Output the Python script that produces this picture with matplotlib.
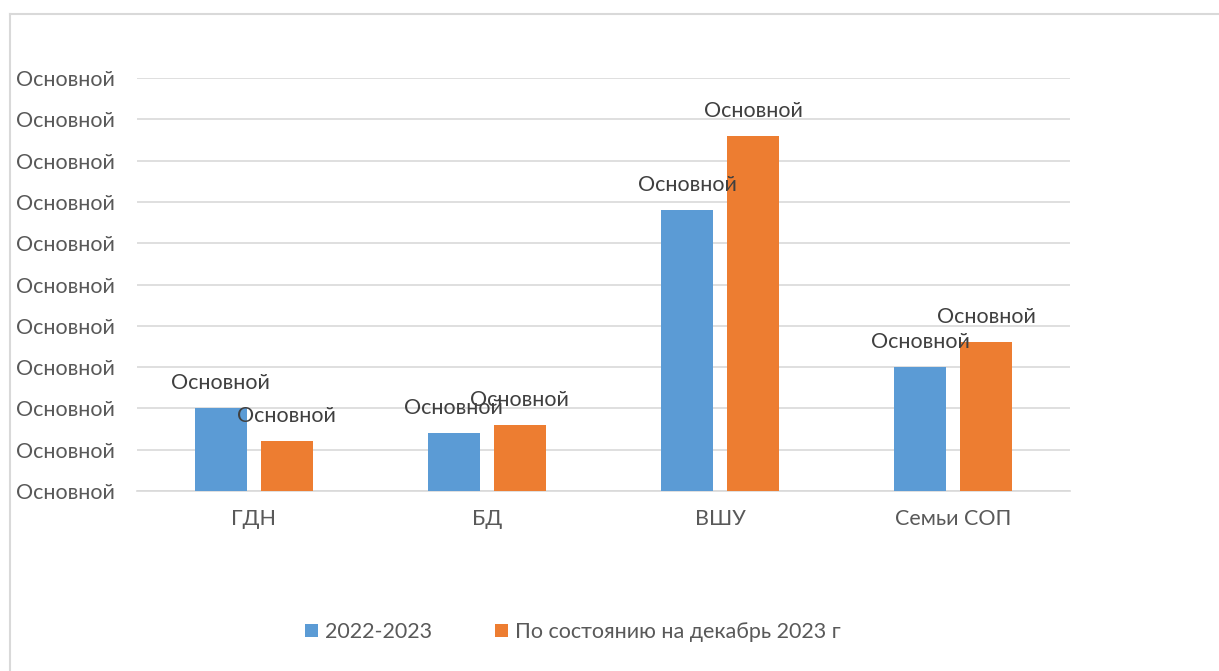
import matplotlib
matplotlib.use("Agg")
import matplotlib.pyplot as plt
from matplotlib.lines import Line2D
import numpy as np

categories = ["ГДН", "БД", "ВШУ", "Семьи СОП"]
series_2022 = [2.0, 1.4, 6.8, 3.0]
series_dec2023 = [1.2, 1.6, 8.6, 3.6]
series_names = ["2022-2023", "По состоянию на декабрь 2023 г"]
y_ticks = list(range(0, 11))
y_tick_label = "Основной"
data_label = "Основной"

plt.rcParams['font.family'] = ['Lato', 'DejaVu Sans']
FS = 15.5

W, H = 1219, 671
fig = plt.figure(figsize=(W / 100, H / 100), dpi=100)
ax = fig.add_axes([137 / W, 1 - 491 / H, (1070 - 137) / W, (491 - 78) / H])

x = np.arange(len(categories))
bw = 52 / 233
off = 33 / 233
blue = "#5b9bd5"
orange = "#ed7d31"
b1 = ax.bar(x - off, series_2022, bw, color=blue, label=series_names[0], zorder=3)
b2 = ax.bar(x + off, series_dec2023, bw, color=orange, label=series_names[1], zorder=3)

for bars in (b1, b2):
    for r in bars:
        ax.annotate(data_label, (r.get_x() + r.get_width() / 2, r.get_height()),
                    xytext=(0, 18), textcoords="offset points",
                    ha="center", va="center", fontsize=FS, color="#404040", zorder=5)

ax.set_xlim(-0.5, len(categories) - 0.5)
ax.set_ylim(0, 10)
ax.set_yticks(y_ticks)
ax.set_yticklabels([y_tick_label] * len(y_ticks))
ax.set_xticks(x)
ax.set_xticklabels(categories)
ax.tick_params(axis="y", length=0, pad=16, labelsize=FS, labelcolor="#595959")
ax.tick_params(axis="x", length=0, pad=13, labelsize=FS, labelcolor="#595959")
ax.grid(axis="y", color="#d9d9d9", lw=1.2, zorder=0)
for s in ["top", "right", "left"]:
    ax.spines[s].set_visible(False)
ax.spines["bottom"].set_color("#d9d9d9")
ax.spines["bottom"].set_linewidth(1.2)

leg = fig.legend(handles=[b1, b2], labels=series_names, loc="center",
                 bbox_to_anchor=(573 / W, 1 - 632 / H), ncol=2, frameon=False,
                 fontsize=FS, handlelength=0.6, handleheight=0.6, handletextpad=0.35,
                 columnspacing=2.9)
for t in leg.get_texts():
    t.set_color("#595959")

fig.add_artist(Line2D([10 / W, 10 / W], [0, 1 - 14 / H], transform=fig.transFigure,
                      color="#d9d9d9", lw=1.5))
fig.add_artist(Line2D([10 / W, 1], [1 - 14 / H, 1 - 14 / H], transform=fig.transFigure,
                      color="#d9d9d9", lw=1.5))

fig.savefig("out.png", dpi=100)
